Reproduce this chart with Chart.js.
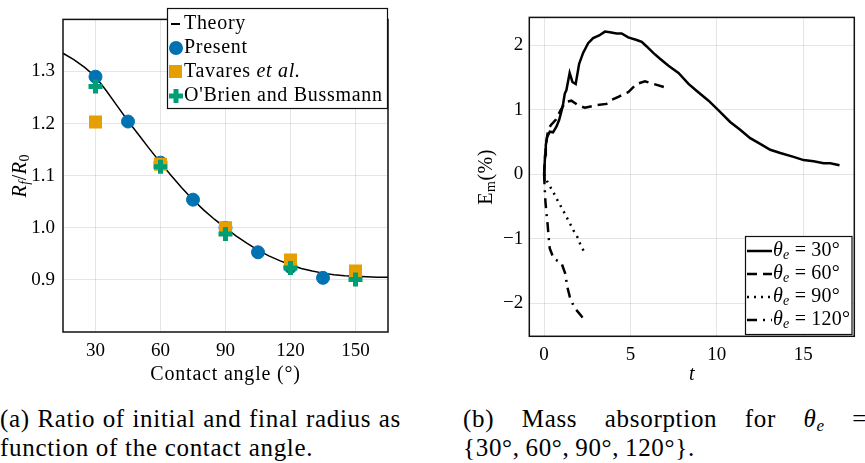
<!DOCTYPE html>
<html lang="en">
<head>
<meta charset="UTF-8">
<title>Contact angle and mass absorption</title>
<script src="https://cdn.jsdelivr.net/npm/chart.js@4.4.0/dist/chart.umd.min.js"></script>
<style>
  body { margin: 0; background: #fff; width: 865px; height: 463px; position: relative; overflow: hidden; font-family: "Liberation Serif", serif; }
  canvas { position: absolute; top: 0; }
  #chartA { left: 0; }
  #chartB { left: 440px; }
  .cap { position: absolute; font-size: 25px; line-height: 28px; letter-spacing: 0.7px; color: #000; white-space: nowrap; }
  .just { text-align: justify; text-align-last: justify; }
  .cap sub { font-size: 17px; line-height: 0; vertical-align: -4px; }
</style>
</head>
<body>
<canvas id="chartA" width="400" height="395"></canvas>
<canvas id="chartB" width="425" height="395"></canvas>
<div class="cap just" style="left:0;top:405px;width:401px">(a) Ratio of initial and final radius as</div>
<div class="cap" style="left:0;top:434px">function of the contact angle.</div>
<div class="cap just" style="left:463px;top:405px;width:404px">(b) Mass absorption for <i>θ</i><sub><i>e</i></sub> =</div>
<div class="cap" style="left:463px;top:434px">{30°,&thinsp;60°,&thinsp;90°,&thinsp;120°}.</div>

<script>
// ---- (a) ratio R_f/R_0 vs contact angle ----
const angleTicks = [30, 60, 90, 120, 150];
const ratioTicks = [0.9, 1.0, 1.1, 1.2, 1.3];

const theoryAngle = [15, 20, 25, 30, 35, 40, 45, 50, 55, 60, 65, 70, 75, 80, 85, 90,
                     95, 100, 105, 110, 115, 120, 125, 130, 135, 140, 145, 150, 155, 160, 165];
const theoryRatio = [1.335, 1.323, 1.308, 1.290, 1.263, 1.234, 1.205, 1.178, 1.151, 1.125,
                     1.100, 1.076, 1.054, 1.034, 1.016, 1.000, 0.984, 0.970, 0.957, 0.946,
                     0.937, 0.929, 0.922, 0.917, 0.913, 0.910, 0.908, 0.907, 0.906, 0.905, 0.905];

const presentAngle = [30, 45, 60, 75, 90, 105, 120, 135];
const presentRatio = [1.290, 1.204, 1.125, 1.054, 1.000, 0.953, 0.925, 0.904];

const tavaresAngle = [30, 60, 90, 120, 150];
const tavaresRatio = [1.203, 1.122, 1.000, 0.938, 0.917];

const obrienAngle = [30, 60, 90, 120, 150];
const obrienRatio = [1.271, 1.117, 0.988, 0.923, 0.901];

// ---- (b) mass absorption E_m(%) vs t ----
const timeTicks = [0, 5, 10, 15];
const emTicks = [-2, -1, 0, 1, 2];

const t30 = [0, 0.02, 0.06, 0.1, 0.18, 0.33, 0.52, 0.72, 0.87, 1.0, 1.1, 1.2, 1.29, 1.48, 1.64, 1.83,
             2.03, 2.26, 2.55, 2.84, 3.19, 3.52, 3.81, 4.2, 4.49, 4.87, 5.36, 5.65, 5.94, 6.32,
             6.71, 7.2, 7.78, 8.36, 8.84, 9.52, 10.1, 10.77, 11.35, 11.93, 12.51, 13.09, 13.67,
             14.44, 15.02, 15.6, 16.18, 16.57, 17.1];
const em30 = [-0.09, 0.1, 0.3, 0.45, 0.58, 0.66, 0.65, 0.74, 0.84, 0.97, 1.09, 1.25, 1.30, 1.57, 1.43, 1.40,
              1.71, 1.88, 2.03, 2.11, 2.15, 2.21, 2.20, 2.18, 2.18, 2.12, 2.08, 2.05, 1.98, 1.88,
              1.79, 1.68, 1.57, 1.40, 1.29, 1.14, 0.99, 0.81, 0.69, 0.56, 0.47, 0.38, 0.33,
              0.27, 0.22, 0.20, 0.17, 0.17, 0.14];

const t60 = [0, 0.1, 0.23, 0.39, 0.7, 0.95, 1.25, 1.58, 1.97, 2.36, 3.0, 3.61, 3.9, 4.3, 4.67,
             4.87, 5.36, 5.84, 6.32, 7.1];
const em60 = [0, 0.45, 0.68, 0.76, 0.85, 0.99, 1.12, 1.14, 1.07, 1.03, 1.07, 1.09, 1.15, 1.20, 1.25,
              1.27, 1.40, 1.44, 1.40, 1.34];

const t90 = [0, 0.18, 0.39, 0.58, 0.79, 0.98, 1.18, 1.55, 1.74, 1.97, 2.1, 2.3];
const em90 = [0, -0.11, -0.21, -0.30, -0.41, -0.50, -0.60, -0.79, -0.89, -0.99, -1.09, -1.19];

const t120 = [0, 0.04, 0.08, 0.14, 0.21, 0.26, 0.33, 0.56, 1.0, 1.24, 1.33, 1.49, 1.74, 2.17, 2.4];
const em120 = [0, -0.23, -0.43, -0.61, -0.79, -0.96, -1.15, -1.31, -1.37, -1.55, -1.73, -1.90, -2.06, -2.20, -2.29];

const SERIF = '"Liberation Serif", "Times New Roman", serif';
const blue = '#0072B2', orange = '#E69F00', green = '#009E73';

function pts(xs, ys) { return xs.map((x, i) => ({ x: x, y: ys[i] })); }

// draw a run of text pieces (for sub-scripts), optionally rotated
function drawPieces(ctx, x, y, pieces, opt) {
  opt = opt || {};
  ctx.save();
  ctx.translate(x, y);
  if (opt.rotate) ctx.rotate(-Math.PI / 2);
  ctx.textBaseline = opt.baseline || 'middle';
  ctx.textAlign = 'left';
  ctx.fillStyle = '#000';
  if ('letterSpacing' in ctx) ctx.letterSpacing = (opt.spacing || 0) + 'px';
  let total = 0;
  pieces.forEach(p => { ctx.font = p.f; total += ctx.measureText(p.t).width; });
  let cx = opt.align === 'center' ? -total / 2 : 0;
  pieces.forEach(p => {
    ctx.font = p.f;
    ctx.fillText(p.t, cx, p.dy || 0);
    cx += ctx.measureText(p.t).width;
  });
  ctx.restore();
}

function frame(chart) {
  const a = chart.chartArea, ctx = chart.ctx;
  ctx.save();
  ctx.strokeStyle = '#111';
  ctx.lineWidth = 1.5;
  ctx.strokeRect(a.left, a.top, a.right - a.left, a.bottom - a.top);
  ctx.restore();
}

function fixTicks(vals) {
  return function (scale) { scale.ticks = vals.map(v => ({ value: v })); };
}

const big = '20px ' + SERIF, bigI = 'italic 20px ' + SERIF, sm = '14px ' + SERIF, smI = 'italic 14px ' + SERIF;

// ---- chart (a) ----
const extrasA = {
  id: 'extrasA',
  afterDraw(chart) {
    const ctx = chart.ctx;
    const a = chart.chartArea;
    frame(chart);
    // axis titles
    drawPieces(ctx, 21, (a.top + a.bottom) / 2, [
      { t: 'R', f: bigI }, { t: 'f', f: smI, dy: 4 }, { t: '/', f: big },
      { t: 'R', f: bigI }, { t: '0', f: sm, dy: 4 }
    ], { rotate: true, align: 'center', spacing: 0.5 });
    drawPieces(ctx, (a.left + a.right) / 2, 380, [{ t: 'Contact angle (°)', f: big }],
      { align: 'center', baseline: 'alphabetic', spacing: 0.8 });
    // legend
    ctx.save();
    ctx.fillStyle = '#fff';
    ctx.fillRect(167, 8, 220, 100);
    ctx.strokeStyle = '#111';
    ctx.lineWidth = 1.2;
    ctx.strokeRect(167.5, 8.5, 220, 100);
    const rows = [24, 48, 72, 96];
    const mx = 176, tx = 184;
    ctx.strokeStyle = '#000'; ctx.lineWidth = 2;
    ctx.beginPath(); ctx.moveTo(171, rows[0]); ctx.lineTo(180, rows[0]); ctx.stroke();
    ctx.fillStyle = blue;
    ctx.beginPath(); ctx.arc(mx, rows[1], 7, 0, Math.PI * 2); ctx.fill();
    ctx.fillStyle = orange;
    ctx.fillRect(mx - 7, rows[2] - 7, 13, 13);
    ctx.strokeStyle = green; ctx.lineWidth = 5;
    ctx.beginPath();
    ctx.moveTo(mx - 7, rows[3]); ctx.lineTo(mx + 7, rows[3]);
    ctx.moveTo(mx, rows[3] - 7); ctx.lineTo(mx, rows[3] + 7);
    ctx.stroke();
    ctx.restore();
    const sp = { spacing: 0.7 };
    drawPieces(ctx, tx, rows[0], [{ t: 'Theory', f: big }], sp);
    drawPieces(ctx, tx, rows[1], [{ t: 'Present', f: big }], sp);
    drawPieces(ctx, tx, rows[2], [{ t: 'Tavares ', f: big }, { t: 'et al.', f: bigI }], sp);
    drawPieces(ctx, tx, rows[3], [{ t: "O'Brien and Bussmann", f: big }], sp);
  }
};

new Chart(document.getElementById('chartA'), {
  type: 'scatter',
  data: {
    datasets: [
      { label: 'Theory', data: pts(theoryAngle, theoryRatio), showLine: true, borderColor: '#000',
        borderWidth: 1.5, pointRadius: 0, order: 4 },
      { label: 'Present', data: pts(presentAngle, presentRatio), pointStyle: 'circle', pointRadius: 6.5,
        backgroundColor: blue, borderColor: blue, borderWidth: 1, order: 3 },
      { label: 'Tavares et al.', data: pts(tavaresAngle, tavaresRatio), pointStyle: 'rect', pointRadius: 9.2,
        backgroundColor: orange, borderColor: orange, borderWidth: 0, order: 2 },
      { label: "O'Brien and Bussmann", data: pts(obrienAngle, obrienRatio), pointStyle: 'cross', pointRadius: 7,
        borderColor: green, borderWidth: 5, order: 1 }
    ]
  },
  options: {
    responsive: false,
    animation: false,
    layout: { padding: { left: 0, right: 10, top: 5, bottom: 0 } },
    plugins: { legend: { display: false }, tooltip: { enabled: false } },
    scales: {
      x: {
        type: 'linear', min: 15, max: 165,
        afterBuildTicks: fixTicks(angleTicks),
        afterFit(s) { s.height = 63; },
        grid: { color: 'rgba(0,0,0,0.1)', drawTicks: false },
        border: { display: false },
        ticks: { color: '#000', font: { family: SERIF, size: 19 }, padding: 8 }
      },
      y: {
        type: 'linear', min: 0.8, max: 1.4,
        afterBuildTicks: fixTicks(ratioTicks),
        afterFit(s) { s.width = 63; },
        grid: { color: 'rgba(0,0,0,0.1)', drawTicks: false },
        border: { display: false },
        ticks: { color: '#000', font: { family: SERIF, size: 19 }, padding: 8,
                 callback: v => v.toFixed(1) }
      }
    }
  },
  plugins: [extrasA]
});

// ---- chart (b) ----
const dashes = [[], [10, 6], [2, 5], [10, 6, 2, 6]];
const thetaLabels = ['30°', '60°', '90°', '120°'];

const extrasB = {
  id: 'extrasB',
  afterDraw(chart) {
    const ctx = chart.ctx;
    const a = chart.chartArea;
    frame(chart);
    drawPieces(ctx, 47, (a.top + a.bottom) / 2, [
      { t: 'E', f: big }, { t: 'm', f: sm, dy: 4 }, { t: '(%)', f: big }
    ], { rotate: true, align: 'center', spacing: 0.5 });
    drawPieces(ctx, (a.left + a.right) / 2, 380, [{ t: 't', f: bigI }],
      { align: 'center', baseline: 'alphabetic' });
    // legend
    ctx.save();
    ctx.fillStyle = '#fff';
    ctx.fillRect(305, 236, 107, 98);
    ctx.strokeStyle = '#111'; ctx.lineWidth = 1.2;
    ctx.strokeRect(305.5, 236.5, 106.5, 98);
    const rows = [251, 274, 297, 320];
    rows.forEach((ry, i) => {
      ctx.strokeStyle = '#000'; ctx.lineWidth = 2.5;
      ctx.setLineDash(dashes[i]);
      ctx.beginPath(); ctx.moveTo(307, ry); ctx.lineTo(332, ry); ctx.stroke();
    });
    ctx.setLineDash([]);
    ctx.restore();
    rows.forEach((ry, i) => {
      drawPieces(ctx, 333, ry, [
        { t: 'θ', f: bigI }, { t: 'e', f: smI, dy: 4 }, { t: ' = ' + thetaLabels[i], f: big }
      ], { spacing: 0.2 });
    });
  }
};

const lineSet = (label, xs, ys, dash) => ({
  label: label, data: pts(xs, ys), showLine: true, pointRadius: 0,
  borderColor: '#000', borderWidth: 2.5, borderDash: dash, fill: false
});

new Chart(document.getElementById('chartB'), {
  type: 'scatter',
  data: {
    datasets: [
      lineSet('θe = 30°', t30, em30, dashes[0]),
      lineSet('θe = 60°', t60, em60, dashes[1]),
      lineSet('θe = 90°', t90, em90, dashes[2]),
      lineSet('θe = 120°', t120, em120, dashes[3])
    ]
  },
  options: {
    responsive: false,
    animation: false,
    layout: { padding: { left: 0, right: 10.7, top: 12.3, bottom: 0 } },
    plugins: { legend: { display: false }, tooltip: { enabled: false } },
    scales: {
      x: {
        type: 'linear', min: -0.855, max: 17.955,
        afterBuildTicks: fixTicks(timeTicks),
        afterFit(s) { s.height = 58.7; },
        grid: { color: 'rgba(0,0,0,0.1)', drawTicks: false },
        border: { display: false },
        ticks: { color: '#000', font: { family: SERIF, size: 19 }, padding: 7 }
      },
      y: {
        type: 'linear', min: -2.51, max: 2.43,
        afterBuildTicks: fixTicks(emTicks),
        afterFit(s) { s.width = 89.3; },
        grid: { color: 'rgba(0,0,0,0.1)', drawTicks: false },
        border: { display: false },
        ticks: { color: '#000', font: { family: SERIF, size: 19 }, padding: 6,
                 callback: v => v < 0 ? '\u2212' + Math.abs(v) : String(v) }
      }
    }
  },
  plugins: [extrasB]
});
</script>
</body>
</html>
